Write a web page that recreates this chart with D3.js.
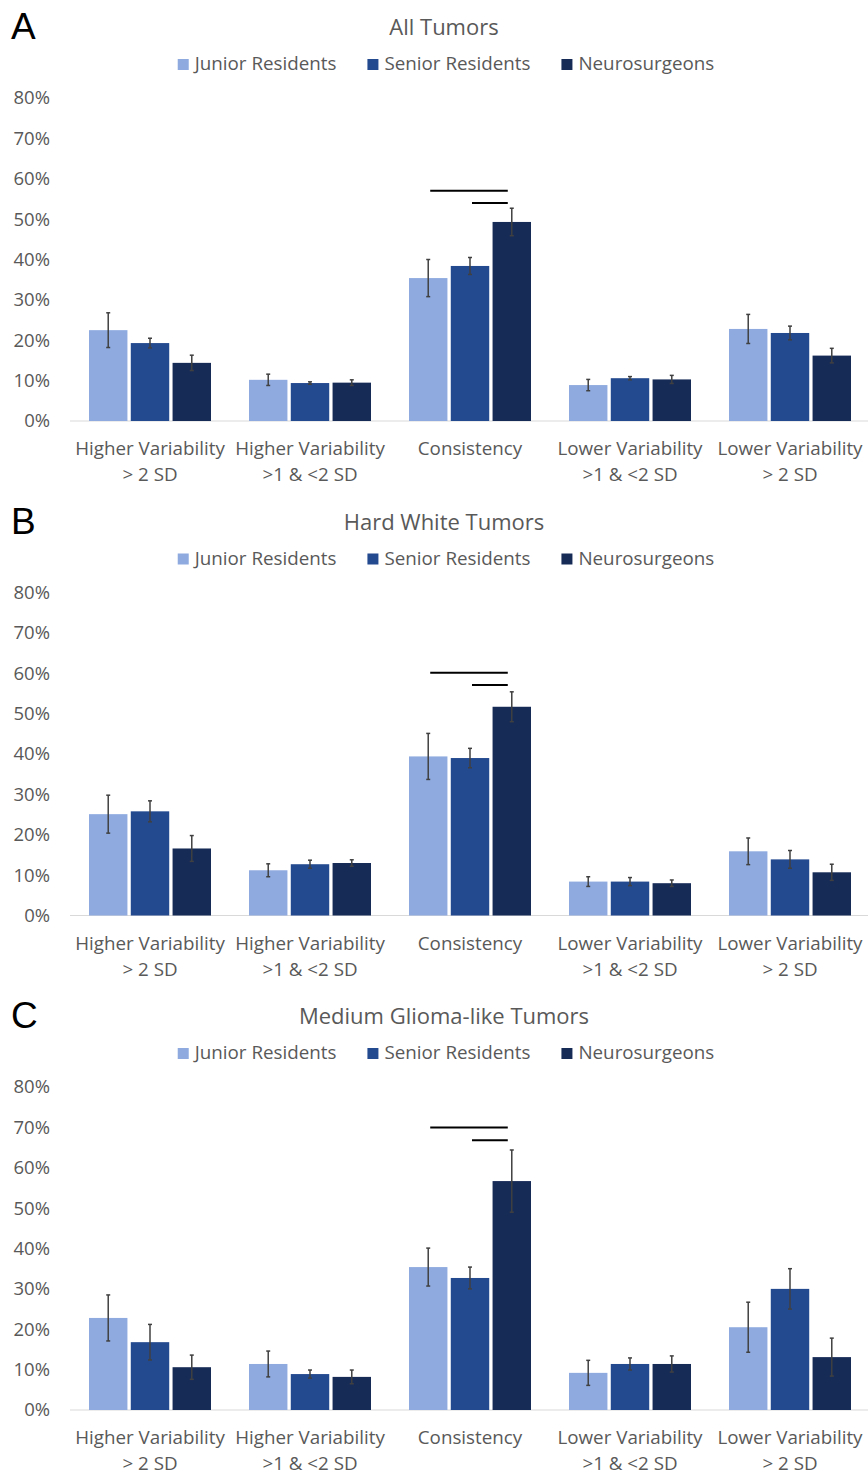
<!DOCTYPE html>
<html>
<head>
<meta charset="utf-8">
<script src="https://cdn.jsdelivr.net/npm/d3@7"></script>
<style>
  body { margin: 0; background: #fff; }
  text { font-family: "Open Sans", sans-serif; fill: #595959; }
</style>
</head>
<body>
<div id="canvas"></div>
<script>
const categories = [
  ["Higher Variability", "> 2 SD"],
  ["Higher Variability", ">1 & <2 SD"],
  ["Consistency"],
  ["Lower Variability", ">1 & <2 SD"],
  ["Lower Variability", "> 2 SD"],
];
const seriesNames = ["Junior Residents", "Senior Residents", "Neurosurgeons"];
const colors = ["#8eaadf", "#23498f", "#172b57"];
const tickValues = [0, 0.1, 0.2, 0.3, 0.4, 0.5, 0.6, 0.7, 0.8];

// Panel A - All Tumors (percent)
const allJunior = [22.5, 10.2, 35.4, 8.9, 22.8];
const allJuniorErr = [4.3, 1.4, 4.6, 1.4, 3.6];
const allSenior = [19.3, 9.4, 38.4, 10.6, 21.8];
const allSeniorErr = [1.2, 0.3, 2.1, 0.4, 1.7];
const allNeuro = [14.4, 9.5, 49.3, 10.3, 16.2];
const allNeuroErr = [1.9, 0.7, 3.4, 1.0, 1.8];

// Panel B - Hard White Tumors
const hardJunior = [25.1, 11.2, 39.4, 8.4, 15.9];
const hardJuniorErr = [4.7, 1.6, 5.7, 1.2, 3.3];
const hardSenior = [25.8, 12.7, 39.0, 8.4, 13.9];
const hardSeniorErr = [2.6, 1.0, 2.4, 1.0, 2.2];
const hardNeuro = [16.6, 13.0, 51.7, 8.0, 10.7];
const hardNeuroErr = [3.2, 0.8, 3.7, 0.8, 2.0];

// Panel C - Medium Glioma-like Tumors
const medJunior = [22.8, 11.4, 35.4, 9.2, 20.5];
const medJuniorErr = [5.7, 3.2, 4.7, 3.1, 6.2];
const medSenior = [16.8, 8.9, 32.7, 11.4, 30.0];
const medSeniorErr = [4.4, 1.0, 2.7, 1.5, 5.0];
const medNeuro = [10.6, 8.2, 56.7, 11.4, 13.1];
const medNeuroErr = [3.0, 1.7, 7.7, 2.0, 4.7];

// significance bars over Consistency: [from series, to series, level %]
const allSig = [[0, 2, 57.0], [1, 2, 54.0]];
const hardSig = [[0, 2, 60.1], [1, 2, 57.1]];
const medSig = [[0, 2, 70.0], [1, 2, 66.8]];

const panels = [
  { letter: "A", title: "All Tumors", vals: [allJunior, allSenior, allNeuro], errs: [allJuniorErr, allSeniorErr, allNeuroErr], sig: allSig },
  { letter: "B", title: "Hard White Tumors", vals: [hardJunior, hardSenior, hardNeuro], errs: [hardJuniorErr, hardSeniorErr, hardNeuroErr], sig: hardSig },
  { letter: "C", title: "Medium Glioma-like Tumors", vals: [medJunior, medSenior, medNeuro], errs: [medJuniorErr, medSeniorErr, medNeuroErr], sig: medSig },
];

const width = 868;
const height = 1473;
const panelH = 494.5;

const svg = d3.select("#canvas").append("svg")
  .attr("width", width)
  .attr("height", height);

const x = d3.scaleBand()
  .domain(d3.range(categories.length))
  .range([70, 870]);

const xs = d3.scaleBand()
  .domain(d3.range(seriesNames.length))
  .range([19, 141])
  .paddingInner(0.08);

const y = d3.scaleLinear().domain([0, 0.8]).range([421, 98]);

panels.forEach((p, pi) => {
  const g = svg.append("g").attr("transform", `translate(0,${pi * panelH})`);

  g.append("text")
    .attr("x", 11)
    .attr("y", 39)
    .style("font-family", "Liberation Sans, Arial, sans-serif")
    .style("font-size", "37px")
    .style("fill", "#000")
    .text(p.letter);

  g.append("text")
    .attr("x", 444)
    .attr("y", 35)
    .attr("text-anchor", "middle")
    .style("font-size", "22px")
    .text(p.title);

  // legend
  const leg = g.append("g");
  let lx = 0;
  seriesNames.forEach((name, i) => {
    const item = leg.append("g").attr("transform", `translate(${lx},0)`);
    item.append("rect")
      .attr("x", 0).attr("y", 59)
      .attr("width", 11).attr("height", 11)
      .attr("fill", colors[i]);
    const t = item.append("text")
      .attr("x", 17).attr("y", 70)
      .style("font-size", "18.8px")
      .text(name);
    lx += 17 + t.node().getComputedTextLength() + 31;
  });
  lx -= 31;
  leg.attr("transform", `translate(${446 - lx / 2},0)`);

  // y axis (labels only)
  const yAxis = g.append("g")
    .attr("transform", "translate(50,0)")
    .call(d3.axisLeft(y).tickValues(tickValues).tickFormat(d3.format(".0%")).tickSize(0).tickPadding(0));
  yAxis.select(".domain").remove();
  yAxis.selectAll("text")
    .style("font-size", "18.5px")
    .style("font-family", "\"Open Sans\", sans-serif")
    .attr("fill", "#595959");

  // baseline
  g.append("line")
    .attr("x1", 70).attr("x2", 868)
    .attr("y1", y(0)).attr("y2", y(0))
    .attr("stroke", "#d9d9d9")
    .attr("stroke-width", 1);

  // bars
  const rows = [];
  p.vals.forEach((vals, si) => {
    vals.forEach((v, ci) => rows.push({ si, ci, v: v / 100, e: p.errs[si][ci] / 100 }));
  });

  g.selectAll("rect.bar")
    .data(rows)
    .enter()
    .append("rect")
    .attr("class", "bar")
    .attr("x", (d) => x(d.ci) + xs(d.si))
    .attr("y", (d) => y(d.v))
    .attr("width", xs.bandwidth())
    .attr("height", (d) => y(0) - y(d.v))
    .attr("fill", (d) => colors[d.si]);

  // error bars
  const eg = g.selectAll("g.err")
    .data(rows)
    .enter()
    .append("g")
    .attr("class", "err")
    .attr("stroke", "#404040")
    .attr("stroke-width", 1.5);
  const cx = (d) => x(d.ci) + xs(d.si) + xs.bandwidth() / 2;
  eg.append("line")
    .attr("x1", cx).attr("x2", cx)
    .attr("y1", (d) => y(d.v + d.e))
    .attr("y2", (d) => y(d.v - d.e));
  eg.append("line")
    .attr("x1", (d) => cx(d) - 2).attr("x2", (d) => cx(d) + 2)
    .attr("y1", (d) => y(d.v + d.e)).attr("y2", (d) => y(d.v + d.e));
  eg.append("line")
    .attr("x1", (d) => cx(d) - 2).attr("x2", (d) => cx(d) + 2)
    .attr("y1", (d) => y(d.v - d.e)).attr("y2", (d) => y(d.v - d.e));

  // significance lines over Consistency
  g.selectAll("line.sig")
    .data(p.sig)
    .enter()
    .append("line")
    .attr("class", "sig")
    .attr("x1", (d) => x(2) + xs(d[0]) + xs.bandwidth() / 2 + 2)
    .attr("x2", (d) => x(2) + xs(d[1]) + xs.bandwidth() / 2 - 4)
    .attr("y1", (d) => y(d[2] / 100))
    .attr("y2", (d) => y(d[2] / 100))
    .attr("stroke", "#000")
    .attr("stroke-width", 2);

  // category labels
  const cl = g.selectAll("text.cat")
    .data(categories)
    .enter()
    .append("text")
    .attr("class", "cat")
    .attr("text-anchor", "middle")
    .attr("x", (d, i) => x(i) + x.bandwidth() / 2)
    .attr("y", 455)
    .style("font-size", "18.8px");
  cl.selectAll("tspan")
    .data((d) => d)
    .enter()
    .append("tspan")
    .attr("x", function () { return this.parentNode.getAttribute("x"); })
    .attr("dy", (d, i) => (i === 0 ? 0 : 26))
    .text((d) => d);
});
</script>
</body>
</html>
